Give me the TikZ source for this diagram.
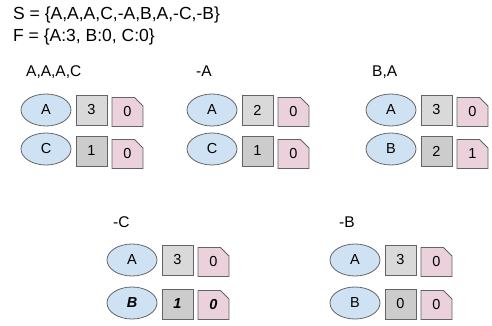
\documentclass[tikz,border=0pt]{standalone}
\usepackage{fontspec}
\setmainfont{Liberation Sans}
\usetikzlibrary{shapes.geometric,shapes.misc}
\definecolor{Bl}{RGB}{207, 226, 243}
\definecolor{Gl}{RGB}{217, 217, 217}
\definecolor{Gd}{RGB}{204, 204, 204}
\definecolor{P}{RGB}{234, 209, 220}
\definecolor{E}{RGB}{100, 100, 100}

\begin{document}
\begin{tikzpicture}[x=1pt, y=-1pt,
  txt/.style={anchor=base west, inner sep=0pt},
  key/.style={ellipse, draw=E, fill=Bl, line width=0.8pt, minimum width=50pt, minimum height=32pt, inner sep=0pt, font=\fontsize{14.5}{16}\selectfont},
  cnt/.style={rectangle, draw=E, fill=Gl, line width=0.8pt, minimum width=31pt, minimum height=30pt, inner sep=0pt, font=\fontsize{14.5}{16}\selectfont},
  cntd/.style={cnt, fill=Gd},
  flag/.style={chamfered rectangle, chamfered rectangle corners=north east, chamfered rectangle xsep=4.5pt, chamfered rectangle ysep=4.5pt, draw=E, fill=P, line width=0.8pt, minimum width=31pt, minimum height=29pt, inner sep=0pt, font=\fontsize{14.5}{16}\selectfont},
  bi/.style={font=\fontsize{14.5}{16}\selectfont\bfseries\itshape}]
  \useasboundingbox (0,0) rectangle (492,326);
  % sets
  \node[txt, font=\fontsize{17.5}{20}\selectfont] (S) at (13,19.5) {S = \{A,A,A,C,-A,B,A,-C,-B\}};
  \node[txt, font=\fontsize{17.5}{20}\selectfont] (F) at (13,42) {F = \{A:3, B:0, C:0\}};
  % A,A,A,C
  \node[txt, font=\fontsize{15.5}{18}\selectfont] (t1) at (26,77) {A,A,A,C};
  \node[key] (a1) at (46,110) {A};
  \node[cnt] (a1c) at (91.5,110) {3};
  \node[flag] (a1f) at (127.5,112) {0};
  \node[key] (c1) at (46,149) {C};
  \node[cntd] (c1c) at (91.5,151) {1};
  \node[flag] (c1f) at (127.5,154) {0};
  % -A
  \node[txt, font=\fontsize{15.5}{18}\selectfont] (t2) at (196,77) {-A};
  \node[key] (a2) at (212,110) {A};
  \node[cnt] (a2c) at (257.5,110) {2};
  \node[flag] (a2f) at (293.5,112) {0};
  \node[key] (c2) at (212,149) {C};
  \node[cntd] (c2c) at (257.5,151) {1};
  \node[flag] (c2f) at (293.5,154) {0};
  % B,A
  \node[txt, font=\fontsize{15.5}{18}\selectfont] (t3) at (372,77) {B,A};
  \node[key] (a3) at (391,110) {A};
  \node[cnt] (a3c) at (436.5,110) {3};
  \node[flag] (a3f) at (472.5,112) {0};
  \node[key] (b3) at (391,149) {B};
  \node[cntd] (b3c) at (436.5,151) {2};
  \node[flag] (b3f) at (472.5,154) {1};
  % -C
  \node[txt, font=\fontsize{15.5}{18}\selectfont] (t4) at (113,227) {-C};
  \node[key] (a4) at (132,260) {A};
  \node[cnt] (a4c) at (177.5,260) {3};
  \node[flag] (a4f) at (213.5,262) {0};
  \node[key, bi] (b4) at (132,303) {B};
  \node[cntd, bi] (b4c) at (177.5,304) {1};
  \node[flag, bi] (b4f) at (213.5,305) {0};
  % -B
  \node[txt, font=\fontsize{15.5}{18}\selectfont] (t5) at (339,227) {-B};
  \node[key] (a5) at (355,260) {A};
  \node[cnt] (a5c) at (400.5,260) {3};
  \node[flag] (a5f) at (436.5,262) {0};
  \node[key] (b5) at (355,303) {B};
  \node[cntd] (b5c) at (400.5,304) {0};
  \node[flag] (b5f) at (436.5,305) {0};
\end{tikzpicture}
\end{document}
